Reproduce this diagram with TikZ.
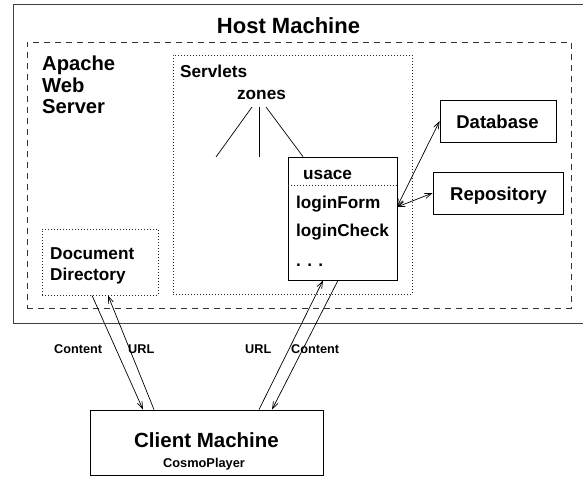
\documentclass[tikz,border=0pt]{standalone}
\usepackage{fontspec}
\setmainfont{Liberation Sans}
\usetikzlibrary{arrows.meta,calc}
\begin{document}
\begin{tikzpicture}[x=1pt,y=-1pt,
  box/.style={draw,line width=0.8pt,inner sep=0pt},
  hostbox/.style={draw=black!75,line width=1pt,inner sep=0pt},
  dashbox/.style={draw=black!80,line width=0.8pt,dash pattern=on 6pt off 5pt,inner sep=0pt},
  dotbox/.style={draw=black!85,line width=0.8pt,dash pattern=on 0.9pt off 2.1pt,inner sep=0pt},
  txt/.style={inner sep=0pt,font=\fontsize{17.2}{20}\selectfont\bfseries},
  bigtxt/.style={inner sep=0pt,font=\fontsize{20.2}{22}\selectfont\bfseries},
  midtxt/.style={inner sep=0pt,font=\fontsize{18.5}{21}\selectfont\bfseries},
  small/.style={inner sep=0pt,font=\fontsize{12.7}{14}\selectfont\bfseries},
  conn/.style={line width=0.7pt},
  arr/.style={line width=0.7pt,-{Straight Barb[length=7pt,width=5pt]}},
  darr/.style={line width=0.7pt,{Straight Barb[length=7pt,width=5pt]}-{Straight Barb[length=7pt,width=5pt]}}
]
\useasboundingbox (0,0) rectangle (583,477);

% boxes
\node[hostbox,minimum width=577pt,minimum height=319pt] (host) at (301.5,163.5) {};
\node[dashbox,minimum width=544pt,minimum height=266pt] (apache) at (299,175) {};
\node[dotbox,minimum width=239pt,minimum height=239pt] (servlets) at (292.5,174.5) {};
\node[box,minimum width=109pt,minimum height=123pt] (usace) at (342.5,218.5) {};
\node[box,minimum width=116pt,minimum height=42pt] (db) at (498,121) {};
\node[box,minimum width=130pt,minimum height=42pt] (repo) at (498,193) {};
\node[dotbox,minimum width=116pt,minimum height=66pt] (docdir) at (100,262) {};
\node[box,minimum width=233pt,minimum height=65pt] (client) at (206.5,442.5) {};

% dotted separator in usace
\coordinate (sepl) at (288,185);
\coordinate (sepr) at (397,185);
\draw[line width=0.8pt,dash pattern=on 0.9pt off 2.1pt,black!85] (sepl) -- (sepr);

% texts
\node[inner sep=0pt,anchor=base,font=\fontsize{22}{24}\selectfont\bfseries] (thost) at (288.5,33) {Host Machine};
\node[bigtxt,anchor=base west] (tap1) at (42,70) {Apache};
\node[bigtxt,anchor=base west] (tap2) at (42,92) {Web};
\node[bigtxt,anchor=base west] (tap3) at (42,113) {Server};
\node[txt,anchor=base west] (tserv) at (180,77) {Servlets};
\node[txt,anchor=base] (zones) at (261.5,99) {zones};
\node[txt,anchor=base west] (tusace) at (303,179) {usace};
\node[txt,anchor=base west] (tlf) at (296,208) {loginForm};
\node[txt,anchor=base west] (tlc) at (296,236.5) {loginCheck};
\node[txt,anchor=base west] (tdots) at (296,266) {. . .};
\node[midtxt,anchor=base] (tdb) at (497.5,128) {Database};
\node[midtxt,anchor=base] (trepo) at (498.5,200) {Repository};
\node[txt,anchor=base west] (tdoc1) at (50,259) {Document};
\node[txt,anchor=base west] (tdoc2) at (50,280) {Directory};
\node[small,anchor=base west] (lc1) at (54,353) {Content};
\node[small,anchor=base west] (lu1) at (128,353) {URL};
\node[small,anchor=base west] (lu2) at (245,353) {URL};
\node[small,anchor=base west] (lc2) at (291,353) {Content};
\node[inner sep=0pt,anchor=base,font=\fontsize{20.5}{22}\selectfont\bfseries] (tclient) at (206.5,447) {Client Machine};
\node[inner sep=0pt,anchor=base,font=\fontsize{12.8}{14}\selectfont\bfseries] (tcosmo) at (204,467) {CosmoPlayer};

% zones tree
\coordinate (z1) at (252,107);
\coordinate (z2) at (259,107);
\coordinate (z3) at (266,107);
\coordinate (e1) at (216,157);
\coordinate (e2) at (259,157);
\draw[conn] (z1) -- (e1);
\draw[conn] (z2) -- (e2);
\draw[conn] (z3) -- (303,0 |- usace.north);

% usace to database / repository
\coordinate (uport) at (397,207);
\draw[darr] (uport) -- (db.west);
\draw[darr] (uport) -- (repo.west);

% client connections
\draw[arr] (92,0 |- docdir.south) -- (143,0 |- client.north);
\draw[arr] (154,0 |- client.north) -- (108,0 |- docdir.south);
\draw[arr] (259,0 |- client.north) -- (323,0 |- usace.south);
\draw[arr] (338,0 |- usace.south) -- (272,0 |- client.north);
\end{tikzpicture}
\end{document}
